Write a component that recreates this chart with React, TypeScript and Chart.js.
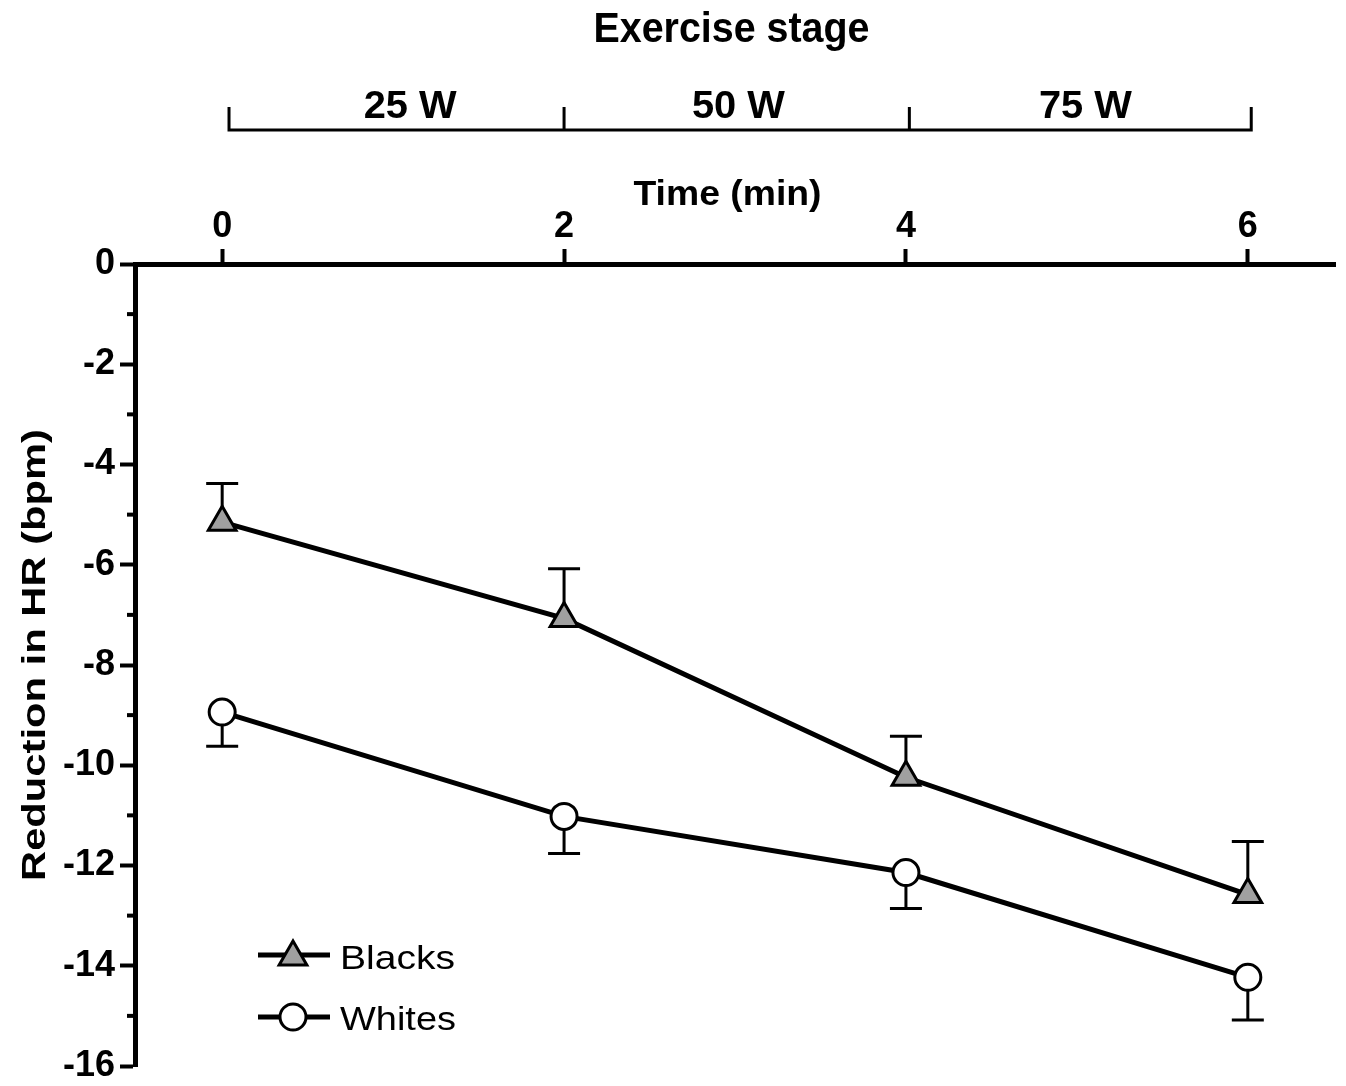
import React, { useEffect, useRef } from "react";
import { Chart, registerables } from "chart.js";

Chart.register(...registerables);

// ---- data ----
const timeMin = [0, 2, 4, 6];
const blacksMean = [-5.15, -7.07, -10.24, -12.58];
const blacksErr = [0.77, 0.99, 0.82, 1.06]; // drawn upward
const whitesMean = [-8.94, -11.02, -12.14, -14.23];
const whitesErr = [0.68, 0.74, 0.72, 0.85]; // drawn downward
const xTickValues = [0, 2, 4, 6];
const yTickValues = [-16, -14, -12, -10, -8, -6, -4, -2, 0];
const yMinorTicks = [-15, -13, -11, -9, -7, -5, -3, -1];
const stageBounds = [0.04, 2.0, 4.02, 6.02];
const stageLabels = ["25 W", "50 W", "75 W"];
const stageLabelPos = [1.1, 3.02, 5.05];
const seriesNames = ["Blacks", "Whites"];

const FONT = '"Liberation Sans", Arial, Helvetica, sans-serif';
const GRAY = "#a0a0a0";

function fitText(
  ctx: CanvasRenderingContext2D,
  text: string,
  x: number,
  y: number,
  size: number,
  width: number,
  weight: string,
  align: CanvasTextAlign,
  rotate = 0
) {
  ctx.save();
  ctx.translate(x, y);
  if (rotate) ctx.rotate(rotate);
  ctx.font = `${weight} ${size}px ${FONT}`;
  const w = ctx.measureText(text).width;
  ctx.scale(width / w, 1);
  ctx.textBaseline = "alphabetic";
  ctx.textAlign = align;
  ctx.fillStyle = "#000";
  ctx.fillText(text, 0, 0);
  ctx.restore();
}

function drawTriangle(ctx: CanvasRenderingContext2D, x: number, y: number, r: number) {
  ctx.beginPath();
  let rad = 0;
  const T = (2 * Math.PI) / 3;
  ctx.moveTo(x + Math.sin(rad) * r, y - Math.cos(rad) * r);
  rad += T;
  ctx.lineTo(x + Math.sin(rad) * r, y - Math.cos(rad) * r);
  rad += T;
  ctx.lineTo(x + Math.sin(rad) * r, y - Math.cos(rad) * r);
  ctx.closePath();
}

const decorPlugin = {
  id: "decor",
  beforeDatasetsDraw(chart: any) {
    const ctx: CanvasRenderingContext2D = chart.ctx;
    const xs = chart.scales.x;
    const ys = chart.scales.y;
    ctx.save();
    ctx.strokeStyle = "#000";
    ctx.lineWidth = 3;
    const cap = 16;
    timeMin.forEach((t, i) => {
      const px = xs.getPixelForValue(t);
      // Blacks: upward
      const b0 = ys.getPixelForValue(blacksMean[i]);
      const b1 = ys.getPixelForValue(blacksMean[i] + blacksErr[i]);
      ctx.beginPath();
      ctx.moveTo(px, b0);
      ctx.lineTo(px, b1);
      ctx.moveTo(px - cap, b1);
      ctx.lineTo(px + cap, b1);
      ctx.stroke();
      // Whites: downward
      const w0 = ys.getPixelForValue(whitesMean[i]);
      const w1 = ys.getPixelForValue(whitesMean[i] - whitesErr[i]);
      ctx.beginPath();
      ctx.moveTo(px, w0);
      ctx.lineTo(px, w1);
      ctx.moveTo(px - cap, w1);
      ctx.lineTo(px + cap, w1);
      ctx.stroke();
    });
    ctx.restore();
  },
  afterDraw(chart: any) {
    const ctx: CanvasRenderingContext2D = chart.ctx;
    const xs = chart.scales.x;
    const ys = chart.scales.y;
    const left = chart.chartArea.left;
    ctx.save();
    ctx.strokeStyle = "#000";
    ctx.fillStyle = "#000";

    // minor y ticks
    ctx.lineWidth = 4;
    yMinorTicks.forEach((v) => {
      const py = ys.getPixelForValue(v);
      ctx.beginPath();
      ctx.moveTo(left - 8, py);
      ctx.lineTo(left, py);
      ctx.stroke();
    });

    // exercise stage bracket
    const by = 130;
    const bTop = 107;
    ctx.lineWidth = 3;
    const bx = stageBounds.map((v) => xs.getPixelForValue(v));
    ctx.beginPath();
    ctx.moveTo(bx[0], by);
    ctx.lineTo(bx[bx.length - 1], by);
    bx.forEach((p) => {
      ctx.moveTo(p, by + 1.5);
      ctx.lineTo(p, bTop);
    });
    ctx.stroke();
    stageLabels.forEach((lab, i) => {
      fitText(ctx, lab, xs.getPixelForValue(stageLabelPos[i]), 118, 39, 93, "bold", "center");
    });

    // titles
    fitText(ctx, "Exercise stage", 731.5, 42, 42, 276, "bold", "center");
    fitText(ctx, "Time (min)", 727.5, 205, 35, 188, "bold", "center");
    fitText(ctx, "Reduction in HR (bpm)", 45, 655, 33, 452, "bold", "center", -Math.PI / 2);

    // legend
    const lx0 = 258;
    const lx1 = 330;
    const mx = 293;
    const ly = [955, 1017];
    ctx.lineWidth = 5;
    ly.forEach((y) => {
      ctx.beginPath();
      ctx.moveTo(lx0, y);
      ctx.lineTo(lx1, y);
      ctx.stroke();
    });
    ctx.lineWidth = 3;
    drawTriangle(ctx, mx, ly[0] + 2, 16);
    ctx.fillStyle = GRAY;
    ctx.fill();
    ctx.stroke();
    ctx.beginPath();
    ctx.arc(mx, ly[1], 13, 0, Math.PI * 2);
    ctx.fillStyle = "#fff";
    ctx.fill();
    ctx.stroke();
    fitText(ctx, seriesNames[0], 340, 969, 34, 115, "normal", "left");
    fitText(ctx, seriesNames[1], 340, 1030, 34, 116, "normal", "left");

    ctx.restore();
  },
};

export default function App() {
  const ref = useRef<HTMLCanvasElement | null>(null);

  useEffect(() => {
    document.body.style.margin = "0";
    document.body.style.overflow = "hidden";
    const canvas = ref.current;
    if (!canvas) return;
    const tickFont = { family: FONT, size: 36, weight: "bold" as const };
    const chart = new Chart(canvas, {
      type: "line",
      data: {
        datasets: [
          {
            label: seriesNames[0],
            data: timeMin.map((x, i) => ({ x, y: blacksMean[i] })),
            borderColor: "#000",
            borderWidth: 5,
            pointStyle: "triangle",
            pointRadius: 16,
            pointBorderWidth: 3,
            pointBackgroundColor: GRAY,
            pointBorderColor: "#000",
            pointHoverRadius: 16,
            tension: 0,
          },
          {
            label: seriesNames[1],
            data: timeMin.map((x, i) => ({ x, y: whitesMean[i] })),
            borderColor: "#000",
            borderWidth: 5,
            pointStyle: "circle",
            pointRadius: 13,
            pointBorderWidth: 3,
            pointBackgroundColor: "#fff",
            pointBorderColor: "#000",
            pointHoverRadius: 13,
            tension: 0,
          },
        ],
      },
      options: {
        responsive: false,
        animation: false,
        events: [],
        layout: { autoPadding: false, padding: { left: 0, top: 0, right: 11, bottom: 20 } },
        scales: {
          x: {
            type: "linear",
            position: "top",
            min: -0.51,
            max: 6.51,
            afterBuildTicks: (s: any) => {
              s.ticks = xTickValues.map((v) => ({ value: v }));
            },
            afterFit: (s: any) => {
              s.height = 264;
              s.paddingLeft = 0;
              s.paddingRight = 0;
            },
            grid: {
              drawOnChartArea: false,
              drawTicks: true,
              tickLength: 15,
              tickWidth: 4,
              tickColor: "#000",
            },
            border: { display: true, color: "#000", width: 5 },
            ticks: {
              font: tickFont,
              color: "#000",
              padding: 0,
              maxRotation: 0,
              autoSkip: false,
            },
          },
          y: {
            type: "linear",
            min: -16,
            max: 0,
            afterBuildTicks: (s: any) => {
              s.ticks = yTickValues.map((v) => ({ value: v }));
            },
            afterFit: (s: any) => {
              s.width = 135;
              s.paddingTop = 0;
              s.paddingBottom = 0;
            },
            grid: {
              drawOnChartArea: false,
              drawTicks: true,
              tickLength: 15,
              tickWidth: 4,
              tickColor: "#000",
            },
            border: { display: true, color: "#000", width: 5 },
            ticks: {
              font: tickFont,
              color: "#000",
              padding: 5,
              autoSkip: false,
            },
          },
        },
        plugins: {
          legend: { display: false },
          tooltip: { enabled: false },
        },
      },
      plugins: [decorPlugin],
    } as any);
    return () => chart.destroy();
  }, []);

  return (
    <div style={{ position: "absolute", left: 0, top: 0, width: 1346, height: 1086, background: "#fff" }}>
      <canvas ref={ref} width={1346} height={1086} style={{ display: "block" }} />
    </div>
  );
}
